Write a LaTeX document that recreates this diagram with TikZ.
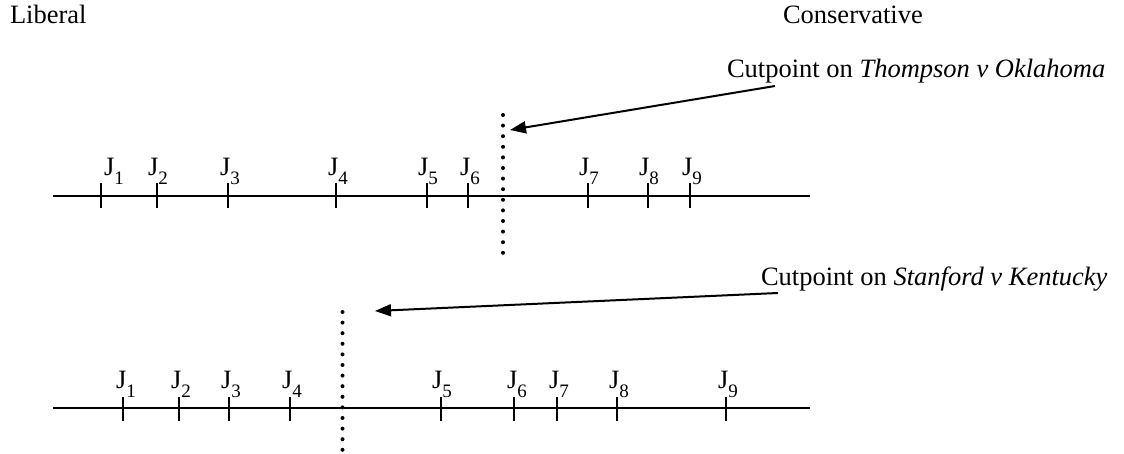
\documentclass[tikz,border=0pt]{standalone}
\usepackage{fontspec}
\setmainfont{Liberation Serif}
\usetikzlibrary{arrows.meta}
\newcommand{\jlab}[1]{J\raisebox{-9pt}{\fontsize{19}{19}\selectfont #1}}
\begin{document}
\begin{tikzpicture}[x=1pt,y=-1pt,
  every node/.style={inner sep=0pt,outer sep=0pt,font=\fontsize{26.5}{30}\selectfont},
  axis/.style={line width=2pt},
  tickmark/.style={line width=2pt},
  dots/.style={line width=4pt,line cap=round,dash pattern=on 0pt off 10.6pt},
  pointer/.style={line width=2pt,-{Triangle[length=16pt,width=12pt]}}]
\useasboundingbox (0,0) rectangle (1124,454);
% headings
\node[anchor=base west] (lib) at (10,24) {Liberal};
\node[anchor=base west] (con) at (783,24) {Conservative};
\node[anchor=base west] (cut1) at (727,78) {Cutpoint on \textit{Thompson v Oklahoma}};
\node[anchor=base west] (cut2) at (761,286) {Cutpoint on \textit{Stanford v Kentucky}};
% upper axis
\coordinate (a1s) at (53,196.5);
\coordinate (a1e) at (810,196.5);
\draw[axis] (a1s) -- (a1e);
\foreach \t/\j/\n in {101/104/1,157/148/2,228/220/3,336/328/4,427/418/5,468/460/6,588/579/7,648/639/8,690/682/9}{
  \draw[tickmark] (\t,183) -- (\t,208);
  \node[anchor=base west] (u\n) at (\j,176) {\jlab{\n}};
}
% lower axis
\coordinate (a2s) at (53,408);
\coordinate (a2e) at (810,408);
\draw[axis] (a2s) -- (a2e);
\foreach \t/\j/\n in {123/116/1,179/171/2,229/221/3,290/282/4,441/432/5,514/507/6,557/549/7,617/609/8,726/718/9}{
  \draw[tickmark] (\t,397) -- (\t,421);
  \node[anchor=base west] (l\n) at (\j,388) {\jlab{\n}};
}
% cutpoints
\coordinate (c1t) at (503,115);
\coordinate (c1b) at (503,253);
\draw[dots] (c1t) -- (c1b);
\coordinate (c2t) at (342.5,312);
\coordinate (c2b) at (342.5,450);
\draw[dots] (c2t) -- (c2b);
% arrows
\coordinate (p1s) at (775,86);
\coordinate (p1e) at (510,130);
\draw[pointer] (p1s) -- (p1e);
\coordinate (p2s) at (778,293);
\coordinate (p2e) at (375,311);
\draw[pointer] (p2s) -- (p2e);
\end{tikzpicture}
\end{document}
